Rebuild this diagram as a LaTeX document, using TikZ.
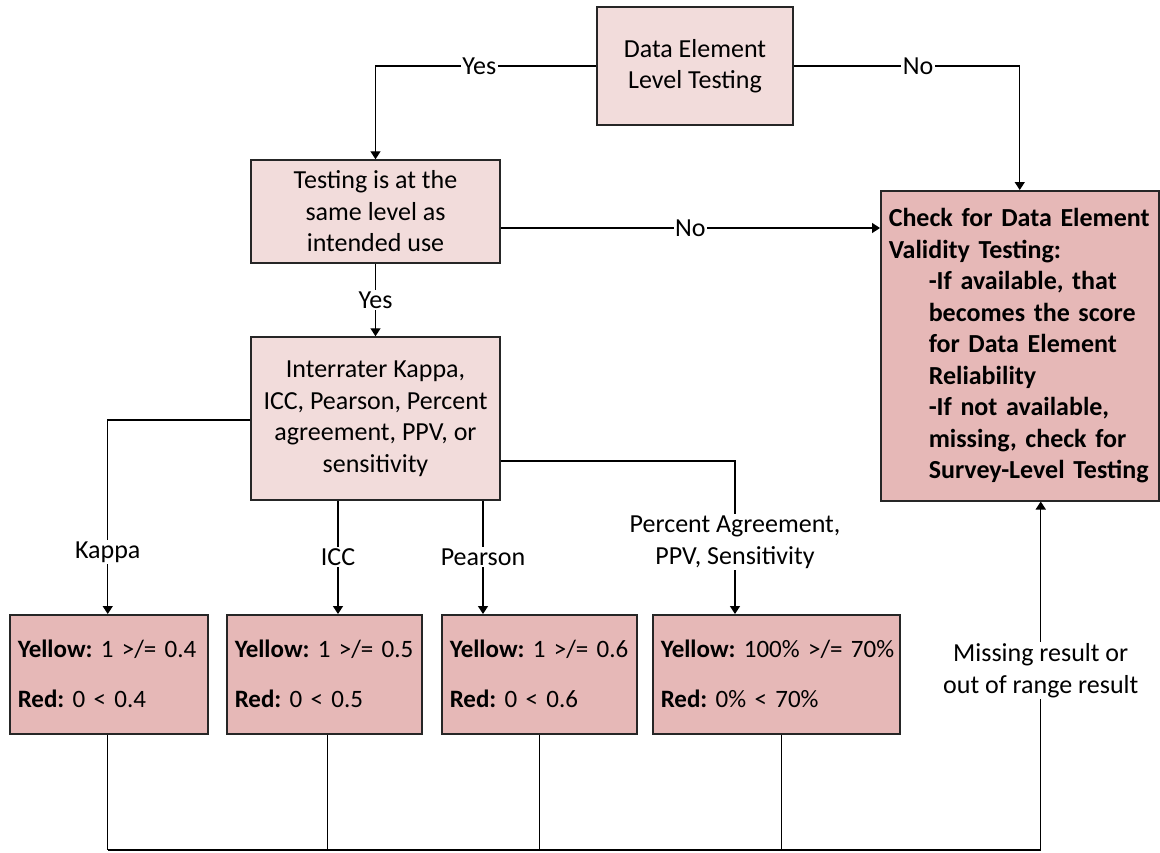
\documentclass[tikz,border=0pt]{standalone}
\usepackage{fontspec}
\setmainfont{Carlito}
\usetikzlibrary{arrows.meta}

\definecolor{pinklight}{HTML}{F2DCDB}
\definecolor{pinkdark}{HTML}{E6B8B7}
\definecolor{edge}{HTML}{262626}

\begin{document}
\frenchspacing
\begin{tikzpicture}[x=1pt,y=-1pt,
  font=\fontsize{26}{31.5}\selectfont,
  boxbase/.style={draw=edge, line width=1.5pt, inner sep=0pt},
  lightbox/.style={boxbase, fill=pinklight, align=center},
  darkbox/.style={boxbase, fill=pinkdark, align=left, anchor=north west, inner xsep=8pt},
  scorebox/.style={darkbox, minimum height=119pt, font=\fontsize{25}{31.5}\selectfont},
  wire/.style={line width=1.4pt, draw=black},
  arr/.style={wire, -{Triangle[length=8pt,width=10pt]}},
  lbl/.style={fill=white, inner sep=1.5pt, align=center}]

\useasboundingbox (0,0) rectangle (1160,852);
\fill[white] (0,0) rectangle (1160,852);

% decision boxes
\node[lightbox, minimum width=196pt, minimum height=118pt] (A) at (695,66)
  {Data Element\\Level Testing};
\node[lightbox, minimum width=249pt, minimum height=103pt] (B) at (375.5,211.5)
  {Testing is at the\\same level as\\intended use};
\node[lightbox, minimum width=249pt, minimum height=163pt] (C) at (375.5,418.5)
  {Interrater Kappa,\\ICC, Pearson, Percent\\agreement, PPV, or\\sensitivity};

% validity check box
\node[darkbox, minimum width=278pt, minimum height=310pt, text width=262pt,
      font=\fontsize{26}{31.5}\selectfont\bfseries] (E) at (880,190)
  {Check for Data Element\\
   Validity Testing:\\
   \hspace*{40pt}-If available, that\\
   \hspace*{40pt}becomes the score\\
   \hspace*{40pt}for Data Element\\
   \hspace*{40pt}Reliability\\
   \hspace*{40pt}-If not available,\\
   \hspace*{40pt}missing, check for\\
   \hspace*{40pt}Survey-Level Testing};

% score boxes
\node[scorebox, minimum width=198pt, text width=182pt] (K) at (9,614)
  {\mbox{\textbf{Yellow:} 1 >/= 0.4}\\[18.5pt]\mbox{\textbf{Red:} 0 < 0.4}};
\node[scorebox, minimum width=195pt, text width=179pt] (I) at (226,614)
  {\mbox{\textbf{Yellow:} 1 >/= 0.5}\\[18.5pt]\mbox{\textbf{Red:} 0 < 0.5}};
\node[scorebox, minimum width=195pt, text width=179pt] (P) at (441,614)
  {\mbox{\textbf{Yellow:} 1 >/= 0.6}\\[18.5pt]\mbox{\textbf{Red:} 0 < 0.6}};
\node[scorebox, minimum width=247pt, text width=231pt] (Q) at (652,614)
  {\mbox{\textbf{Yellow:} 100\% >/= 70\%}\\[18.5pt]\mbox{\textbf{Red:} 0\% < 70\%}};

% level of testing
\draw[arr] (A.west) -- node[lbl, pos=0.53] {Yes} (A.west -| B.north) -- (B.north);
\draw[arr] (A.east) -- node[lbl, pos=0.55] {No} (A.east -| E.north) -- (E.north);
\coordinate (bno) at ([yshift=-16.5pt]B.east);
\draw[arr] (bno) -- node[lbl] {No} (bno -| E.west);
\draw[arr] (B.south) -- node[lbl] {Yes} (C.north);

% statistic branches
\draw[arr] ([yshift=-1.5pt]C.west) -| node[lbl, pos=0.84] {Kappa} ([xshift=-1pt]K.north);
\coordinate (icc) at ([xshift=-37.5pt]C.south);
\draw[arr] (icc) -- node[lbl, pos=0.5] {ICC} (icc |- I.north);
\coordinate (prs) at ([xshift=107.5pt]C.south);
\draw[arr] (prs) -- node[lbl, pos=0.5] {Pearson} (prs |- P.north);
\coordinate (pct) at ([yshift=-42.5pt]C.east);
\coordinate (pctdown) at (735,0);
\draw[arr] (pct) -| node[lbl, pos=0.765] {Percent Agreement,\\PPV, Sensitivity} (pctdown |- Q.north);

% return path to validity check
\coordinate (base) at (0,850);
\coordinate (ret) at ([xshift=21pt]E.south);
\draw[wire] ([xshift=-1pt]K.south) -- ([xshift=-1pt]K.south |- base);
\coordinate (id) at ([xshift=3.5pt]I.south);
\draw[wire] (id) -- (id |- base);
\draw[wire] (P.south) -- (P.south |- base);
\coordinate (qd) at ([xshift=5.5pt]Q.south);
\draw[wire] (qd) -- (qd |- base);
\draw[arr] ([xshift=-1pt]K.south |- base) -- (ret |- base)
  -- node[lbl, pos=0.515] {Missing result or\\out of range result} (ret);

\end{tikzpicture}
\end{document}
